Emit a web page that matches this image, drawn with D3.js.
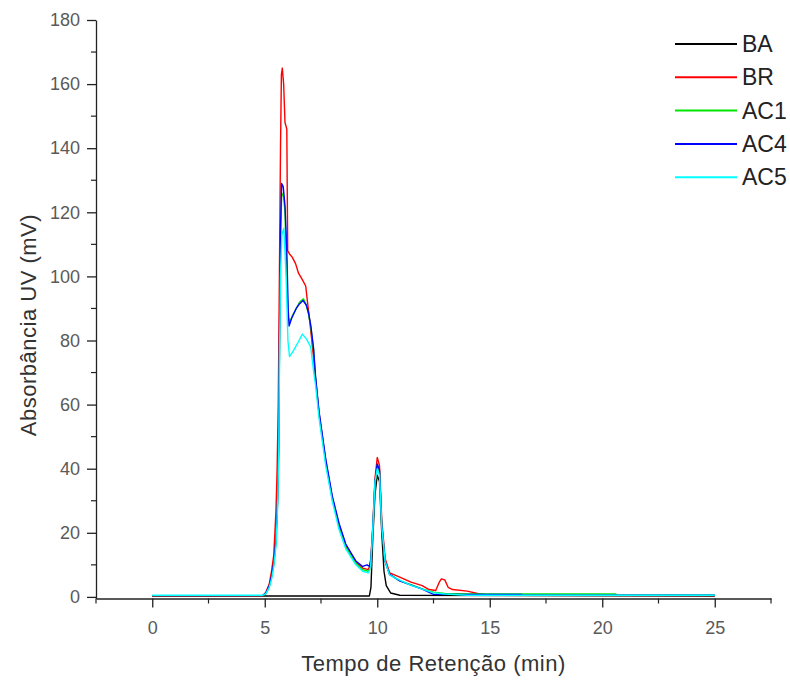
<!DOCTYPE html>
<html>
<head>
<meta charset="utf-8">
<script src="https://cdn.jsdelivr.net/npm/d3@7"></script>
<style>
  body { margin: 0; background: #fff; }
  text { font-family: "Liberation Sans", Arial, sans-serif; }
  .tick-label { font-size: 18px; fill: #5a5a5a; }
  .axis-title { font-size: 22px; fill: #333; letter-spacing: 0.5px; }
  .legend-label { font-size: 23px; fill: #222; }
</style>
</head>
<body>
<div id="chart"></div>
<script>
// series names + colours (legend order = draw order)
var seriesNames = ["BA", "BR", "AC1", "AC4", "AC5"];
var seriesColors = ["#000000", "#ff0000", "#00e600", "#0000ff", "#00ffff"];

// [tempo (min), absorbancia (mV)]
var baData = [[0,0.3],[9.65,0.3],[9.72,3],[9.8,18],[9.9,32],[10.0,38],[10.1,36],[10.2,20],[10.3,8],[10.4,3.5],[10.6,1.2],[11,0.5],[25,0.3]];

var brData = [[0,0.3],[4.9,0.3],[5.05,1.5],[5.2,4],[5.3,8],[5.4,13],[5.5,27],[5.55,40],[5.6,60],[5.65,99],[5.7,140],[5.74,163],[5.78,165],
  [5.84,160],[5.9,148],[5.98,146],[6.02,108],[6.1,107],[6.22,106],[6.37,104],[6.5,101],[6.67,99],[6.82,97],[6.9,92],[7.0,86],[7.12,78],
  [7.26,68],[7.41,57.5],[7.56,50],[7.71,42.5],[8.0,31],[8.3,22.5],[8.6,16],[9.05,11],[9.35,9],[9.6,8.5],[9.7,10],[9.8,22],[9.9,37],
  [10.0,43.5],[10.1,41],[10.2,24],[10.35,12],[10.55,7.5],[11.0,6.2],[11.5,4.6],[12.0,3.5],[12.3,2.3],[12.6,2],[12.75,4.5],[12.85,5.6],
  [13.0,5.3],[13.15,3],[13.35,2.3],[14.0,1.8],[14.5,1.0],[15,0.5],[25,0.4]];

var ac1Data = [[0,0.4],[4.9,0.4],[5.05,1],[5.2,3],[5.3,6],[5.4,10],[5.5,17],[5.57,29],[5.62,45],[5.66,80],[5.7,110],[5.75,125],[5.82,126],
  [5.9,120],[5.97,100],[6.05,87],[6.12,86],[6.25,88],[6.4,90],[6.55,92],[6.72,93],[6.85,91],[6.95,88],[7.05,84],[7.17,77],[7.26,68],
  [7.41,57],[7.56,49.5],[7.71,42],[8.0,30.5],[8.3,22],[8.6,15.5],[9.05,10.5],[9.35,8.5],[9.6,8],[9.7,9],[9.8,20],[9.9,35],[10.0,41],
  [10.1,39],[10.2,22],[10.35,11],[10.55,7],[11.0,5],[11.5,3.8],[12.0,2.5],[12.5,1.5],[13.0,1.1],[14.0,0.9],[20.6,0.9],[20.65,0.5],[25,0.5]];

var ac4Data = [[0,0.4],[4.9,0.4],[5.05,1.2],[5.2,3.5],[5.3,6.5],[5.4,10.5],[5.5,18],[5.57,30],[5.62,47],[5.66,85],[5.7,115],[5.75,129],[5.82,128],
  [5.9,122],[5.98,108],[6.04,90],[6.08,84.5],[6.2,87],[6.4,90],[6.55,91.5],[6.7,92.5],[6.85,91],[6.95,88.5],[7.05,84.5],[7.17,77.5],[7.26,68.5],
  [7.41,58],[7.56,50.5],[7.71,43],[8.0,31.5],[8.3,23],[8.6,16.5],[9.05,11.2],[9.35,9.5],[9.55,10],[9.65,9.5],[9.72,12],[9.8,21],[9.9,36],
  [10.0,41.5],[10.1,39.5],[10.2,22.5],[10.35,11],[10.55,7],[11.0,5],[11.5,3.7],[12.0,2.4],[12.5,0.8],[16.4,0.8],[16.45,0.5],[25,0.5]];

var ac5Data = [[0,0.5],[4.9,0.5],[5.05,1],[5.2,3],[5.3,5.5],[5.4,9.5],[5.5,16],[5.57,28],[5.62,44],[5.66,78],[5.7,100],[5.76,113],[5.85,115],
  [5.95,100],[6.03,80],[6.1,75],[6.25,76.5],[6.45,79],[6.67,82],[6.85,80.5],[7.04,78],[7.18,70],[7.26,66],[7.41,56],[7.56,48.5],[7.71,41],
  [8.0,30],[8.3,21],[8.6,15],[9.05,10],[9.35,8],[9.6,7.5],[9.7,9],[9.8,21],[9.9,36],[10.0,40],[10.1,38],[10.2,22],[10.35,11],[10.55,6.8],
  [11.0,5.2],[11.5,3.6],[12.0,2.4],[12.5,1.3],[13.0,0.9],[14.0,0.5],[25,0.5]];

var allSeries = [baData, brData, ac1Data, ac4Data, ac5Data];

var xMajor = [0, 5, 10, 15, 20, 25];
var xMinor = [-2.5, 2.5, 7.5, 12.5, 17.5, 22.5, 27.5];
var yMajor = [0, 20, 40, 60, 80, 100, 120, 140, 160, 180];
var yMinor = [10, 30, 50, 70, 90, 110, 130, 150, 170];

var width = 790, height = 681;
var plot = { left: 96, right: 771, top: 20, bottom: 598.5 };

var svg = d3.select("#chart").append("svg")
  .attr("width", width)
  .attr("height", height);

var x = d3.scaleLinear().domain([-2.5, 27.5]).range([plot.left, plot.right]);
var y = d3.scaleLinear().domain([-0.5, 180]).range([plot.bottom, plot.top]);

// curves
var line = d3.line()
  .x(function(d) { return x(d[0]); })
  .y(function(d) { return y(d[1]); });

svg.append("g").selectAll("path")
  .data(allSeries)
  .enter().append("path")
    .attr("d", line)
    .attr("fill", "none")
    .attr("stroke", function(d, i) { return seriesColors[i]; })
    .attr("stroke-width", 1.4)
    .attr("stroke-linejoin", "round");

// x axis
var xAxis = svg.append("g")
  .attr("transform", "translate(0," + plot.bottom + ")")
  .call(d3.axisBottom(x).tickValues(xMajor).tickSize(9).tickSizeOuter(0).tickPadding(14));
xAxis.select(".domain").attr("stroke", "#222").attr("stroke-width", 1.3);
xAxis.selectAll(".tick line").attr("stroke", "#222").attr("stroke-width", 1.3);
xAxis.selectAll(".tick text").attr("class", "tick-label").attr("font-size", null).attr("fill", null);

svg.append("g").selectAll("line")
  .data(xMinor)
  .enter().append("line")
    .attr("x1", function(d) { return x(d); })
    .attr("x2", function(d) { return x(d); })
    .attr("y1", plot.bottom)
    .attr("y2", plot.bottom + 5)
    .attr("stroke", "#222")
    .attr("stroke-width", 1.2);

// y axis
var yAxis = svg.append("g")
  .attr("transform", "translate(" + plot.left + ",0)")
  .call(d3.axisLeft(y).tickValues(yMajor).tickSize(9).tickSizeOuter(0).tickPadding(7));
yAxis.select(".domain").attr("stroke", "#222").attr("stroke-width", 1.3);
yAxis.selectAll(".tick line").attr("stroke", "#222").attr("stroke-width", 1.3);
yAxis.selectAll(".tick text").attr("class", "tick-label").attr("font-size", null).attr("fill", null);

svg.append("g").selectAll("line")
  .data(yMinor)
  .enter().append("line")
    .attr("x1", plot.left - 5)
    .attr("x2", plot.left)
    .attr("y1", function(d) { return y(d); })
    .attr("y2", function(d) { return y(d); })
    .attr("stroke", "#222")
    .attr("stroke-width", 1.2);

// axis titles
svg.append("text")
  .attr("class", "axis-title")
  .attr("x", (plot.left + plot.right) / 2)
  .attr("y", 671)
  .attr("text-anchor", "middle")
  .text("Tempo de Retenção (min)");

svg.append("text")
  .attr("class", "axis-title")
  .attr("transform", "translate(36,325) rotate(-90)")
  .attr("text-anchor", "middle")
  .text("Absorbância UV (mV)");

// legend
var legend = svg.append("g").selectAll("g")
  .data(seriesNames)
  .enter().append("g")
    .attr("transform", function(d, i) { return "translate(675," + (44 + i * 33.3) + ")"; });

legend.append("line")
  .attr("x1", 0).attr("x2", 62)
  .attr("stroke", function(d, i) { return seriesColors[i]; })
  .attr("stroke-width", 2);

legend.append("text")
  .attr("class", "legend-label")
  .attr("x", 67)
  .attr("y", 8)
  .text(function(d) { return d; });
</script>
</body>
</html>
